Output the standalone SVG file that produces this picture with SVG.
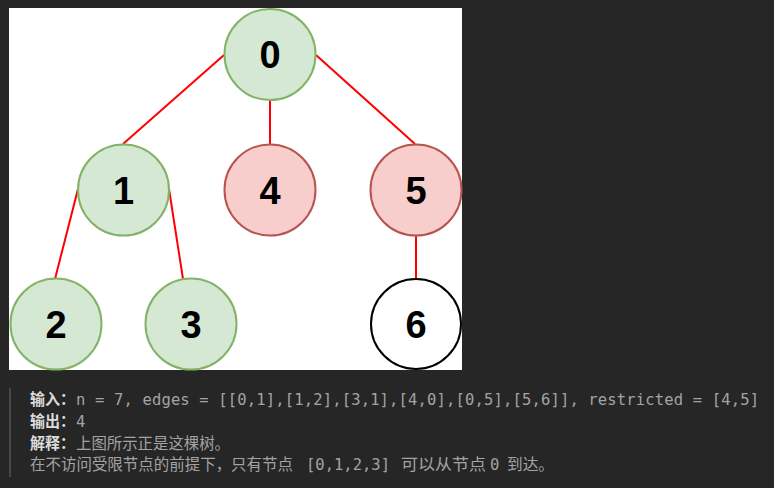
<svg xmlns="http://www.w3.org/2000/svg" width="774" height="488" viewBox="0 0 774 488">
<style>
.g{fill:#d5e8d4;stroke:#82b366;stroke-width:2}
.r{fill:#f8cecc;stroke:#b85450;stroke-width:2}
.w{fill:#ffffff;stroke:#000000;stroke-width:2}
.d{font-family:"Liberation Sans",Arial,sans-serif;font-weight:bold;font-size:38px;fill:#000;text-anchor:middle}
.e line{stroke:#ff0000;stroke-width:2}
.lab{font-family:"Noto Sans CJK SC",sans-serif;font-weight:bold;font-size:15.5px;fill:#dcdcdc}
.cj{font-family:"Noto Sans CJK SC",sans-serif;font-size:15.5px;fill:#a3a3a3}
.mo{font-family:"DejaVu Sans Mono","Liberation Mono",monospace;font-size:15.5px;fill:#a3a3a3}
</style>
<rect width="774" height="488" fill="#262626"/>
<rect x="9" y="8" width="453" height="362" fill="#ffffff"/>
<g class="e" id="edges">
<line x1="224" y1="55" x2="123" y2="144"/>
<line x1="270" y1="100" x2="270" y2="144"/>
<line x1="316" y1="55" x2="415" y2="144"/>
<line x1="78" y1="189" x2="55" y2="279"/>
<line x1="169" y1="189" x2="183" y2="279"/>
<line x1="416" y1="236" x2="416" y2="279"/>
</g>
<g id="n0"><circle class="g" cx="270" cy="54.5" r="45.5"/><text class="d" x="270" y="68">0</text></g>
<g id="n1"><circle class="g" cx="123.5" cy="190" r="45.5"/><text class="d" x="123.5" y="203.5">1</text></g>
<g id="n4"><circle class="r" cx="270" cy="190" r="45.5"/><text class="d" x="270" y="203.5">4</text></g>
<g id="n5"><circle class="r" cx="416" cy="190" r="45.5"/><text class="d" x="416" y="203.5">5</text></g>
<g id="n2"><circle class="g" cx="56" cy="324" r="45.5"/><text class="d" x="56" y="337.5">2</text></g>
<g id="n3"><circle class="g" cx="191" cy="324" r="45.5"/><text class="d" x="191" y="337.5">3</text></g>
<g id="n6"><circle class="w" cx="416" cy="324" r="45"/><text class="d" x="416" y="337.5">6</text></g>
<rect x="9" y="388" width="2" height="89" fill="#474747"/>
<g id="desc">
<text class="lab" x="30" y="405" textLength="45" lengthAdjust="spacingAndGlyphs">输入：</text>
<text class="mo" x="76" y="405" textLength="683" lengthAdjust="spacing">n = 7, edges = [[0,1],[1,2],[3,1],[4,0],[0,5],[5,6]], restricted = [4,5]</text>
<text class="lab" x="30" y="427" textLength="45" lengthAdjust="spacingAndGlyphs">输出：</text>
<text class="mo" x="76" y="427">4</text>
<text class="lab" x="30" y="449" textLength="45" lengthAdjust="spacingAndGlyphs">解释：</text>
<text class="cj" x="76" y="449" textLength="154" lengthAdjust="spacingAndGlyphs">上图所示正是这棵树。</text>
<text class="cj" x="30" y="470" textLength="263" lengthAdjust="spacingAndGlyphs">在不访问受限节点的前提下，只有节点</text>
<text class="mo" x="306" y="470" textLength="84" lengthAdjust="spacing">[0,1,2,3]</text>
<text class="cj" x="401" y="470" textLength="85" lengthAdjust="spacingAndGlyphs">可以从节点</text>
<text class="mo" x="490" y="470">0</text>
<text class="cj" x="507" y="470" textLength="47" lengthAdjust="spacingAndGlyphs">到达。</text>
</g>
</svg>
